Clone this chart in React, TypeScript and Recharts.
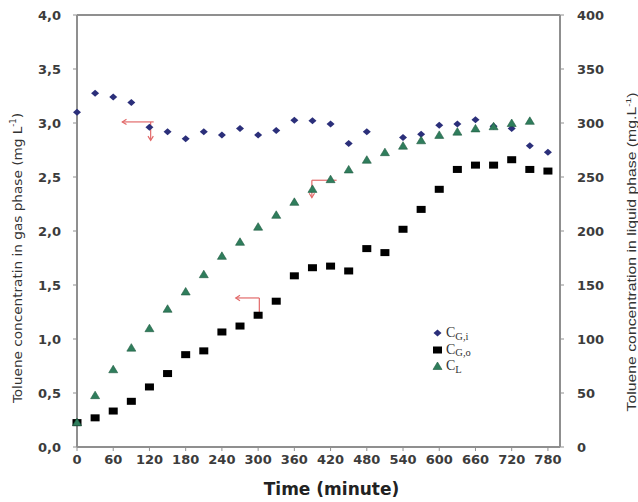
import React from 'react';
import {
  ScatterChart,
  Scatter,
  XAxis,
  YAxis,
  ReferenceLine,
  Label,
} from 'recharts';

// time (minute) for each series
const timeGi = [0, 30, 60, 90, 120, 150, 180, 210, 240, 270, 300, 330, 360, 390, 420, 450, 480, 540, 570, 600, 630, 660, 690, 720, 750, 780];
const timeGo = [0, 30, 60, 90, 120, 150, 180, 210, 240, 270, 300, 330, 360, 390, 420, 450, 480, 510, 540, 570, 600, 630, 660, 690, 720, 750, 780];
const timeL = [0, 30, 60, 90, 120, 150, 180, 210, 240, 270, 300, 330, 360, 390, 420, 450, 480, 510, 540, 570, 600, 630, 660, 690, 720, 750];

// gas phase, mg/L (left axis)
const cGi = [3.1, 3.275, 3.24, 3.19, 2.96, 2.92, 2.855, 2.92, 2.89, 2.95, 2.89, 2.93, 3.025, 3.02, 2.99, 2.81, 2.92, 2.865, 2.895, 2.98, 2.99, 3.03, 2.97, 2.95, 2.79, 2.73];
const cGo = [0.226, 0.27, 0.333, 0.423, 0.556, 0.68, 0.855, 0.89, 1.065, 1.12, 1.22, 1.35, 1.585, 1.66, 1.675, 1.63, 1.837, 1.8, 2.016, 2.2, 2.386, 2.57, 2.61, 2.61, 2.66, 2.57, 2.555];
// liquid phase, mg/L (right axis)
const cL = [23, 48, 72, 92, 110, 128, 144, 160, 177, 190, 204, 215, 227, 239, 248, 257, 266, 273, 279, 284, 289, 292, 295, 297, 300, 302];

const xTicks = [0, 60, 120, 180, 240, 300, 360, 420, 480, 540, 600, 660, 720, 780];
const leftTicks = [0, 0.5, 1, 1.5, 2, 2.5, 3, 3.5, 4];
const rightTicks = [0, 50, 100, 150, 200, 250, 300, 350, 400];

// red annotation arrows, in data units of the left axis
const arrowSegments = [
  { x1: 127, y1: 3.01, x2: 75, y2: 3.01, head: true },
  { x1: 122, y1: 3.01, x2: 122, y2: 2.84, head: true },
  { x1: 389, y1: 2.47, x2: 430, y2: 2.47, head: false },
  { x1: 389, y1: 2.47, x2: 389, y2: 2.31, head: true },
  { x1: 302, y1: 1.38, x2: 263, y2: 1.38, head: true },
  { x1: 302, y1: 1.38, x2: 302, y2: 1.23, head: false },
];

const giData = timeGi.map((t, i) => ({ t, v: cGi[i] }));
const goData = timeGo.map((t, i) => ({ t, v: cGo[i] }));
const lData = timeL.map((t, i) => ({ t, v: cL[i] }));

const BLUE = '#2b2f7a';
const GREEN = '#2f7d5c';
const RED = '#e26a6a';
const AXIS = '#8f8f8f';
const TICK_FONT = { fontFamily: 'DejaVu Sans', fontWeight: 700, fontSize: 13, fill: '#3c3c3c' };

const Diamond = (p: any) => (
  <polygon points={`${p.cx - 4},${p.cy} ${p.cx},${p.cy - 3.5} ${p.cx + 4},${p.cy} ${p.cx},${p.cy + 3.5}`} fill={BLUE} />
);
const Square = (p: any) => <rect x={p.cx - 4.5} y={p.cy - 3.5} width={9} height={7} fill="#000" />;
const Triangle = (p: any) => (
  <polygon
    points={`${p.cx - 4.5},${p.cy + 3.5} ${p.cx},${p.cy - 4} ${p.cx + 4.5},${p.cy + 3.5}`}
    fill={GREEN}
    stroke="#1f5a40"
    strokeWidth={0.6}
  />
);

const headShape = (p: any) => {
  const { x1, y1, x2, y2 } = p;
  const ang = Math.atan2(y2 - y1, x2 - x1);
  const a1 = ang + Math.PI * 0.82;
  const a2 = ang - Math.PI * 0.82;
  return (
    <g>
      <line x1={x1} y1={y1} x2={x2} y2={y2} stroke={RED} strokeWidth={1.2} />
      <polyline
        points={`${x2 + 5 * Math.cos(a1)},${y2 + 5 * Math.sin(a1)} ${x2},${y2} ${x2 + 5 * Math.cos(a2)},${y2 + 5 * Math.sin(a2)}`}
        fill="none"
        stroke={RED}
        strokeWidth={1.2}
      />
    </g>
  );
};
const plainShape = (p: any) => <line x1={p.x1} y1={p.y1} x2={p.x2} y2={p.y2} stroke={RED} strokeWidth={1.2} />;

const LeftTitle = (props: any) => {
  const vb = props.viewBox;
  const cx = vb.x + 17;
  const cy = vb.y + vb.height / 2 + 27;
  return (
    <text
      x={cx}
      y={cy}
      transform={`rotate(-90 ${cx} ${cy})`}
      textAnchor="middle"
      dominantBaseline="central"
      fontFamily="'Liberation Sans Narrow', 'DejaVu Sans Condensed', sans-serif"
      fontSize={13}
      fill="#333"
      textLength={290}
      lengthAdjust="spacingAndGlyphs"
    >
      Toluene concentratin in gas phase (mg L<tspan dy={-4} fontSize={8}>-1</tspan>
      <tspan dy={4}>)</tspan>
    </text>
  );
};

const RightTitle = (props: any) => {
  const vb = props.viewBox;
  const cx = vb.x + 72;
  const cy = vb.y + vb.height / 2 + 21;
  return (
    <text
      x={cx}
      y={cy}
      transform={`rotate(-90 ${cx} ${cy})`}
      textAnchor="middle"
      dominantBaseline="central"
      fontFamily="'Liberation Sans', Arial, sans-serif"
      fontSize={12.5}
      fill="#333"
      textLength={319}
      lengthAdjust="spacingAndGlyphs"
    >
      Toluene concentration in liquid phase (mg.L<tspan dy={-4} fontSize={8}>-1</tspan>
      <tspan dy={4}>)</tspan>
    </text>
  );
};

const BottomTitle = (props: any) => {
  const vb = props.viewBox;
  return (
    <text
      x={vb.x + vb.width / 2 + 13}
      y={vb.y + 48}
      textAnchor="middle"
      fontFamily="DejaVu Sans"
      fontWeight={700}
      fontSize={17}
      fill="#222"
    >
      Time (minute)
    </text>
  );
};

const legendItems = [
  { sub: 'G,i', shape: 'diamond' },
  { sub: 'G,o', shape: 'square' },
  { sub: 'L', shape: 'triangle' },
];

const LegendBox = () => (
  <div style={{ position: 'absolute', left: 432, top: 325, fontFamily: "'Liberation Serif', serif", color: '#333' }}>
    {legendItems.map((it) => (
      <div key={it.sub} style={{ display: 'flex', alignItems: 'center', height: 16.5 }}>
        <svg width={11} height={10} style={{ marginRight: 3 }}>
          {it.shape === 'diamond' && <Diamond cx={5.5} cy={5} />}
          {it.shape === 'square' && <Square cx={5.5} cy={5} />}
          {it.shape === 'triangle' && <Triangle cx={5.5} cy={5} />}
        </svg>
        <span style={{ fontSize: 14 }}>C</span>
        <span style={{ fontSize: 10.5, position: 'relative', top: 3 }}>{it.sub}</span>
      </div>
    ))}
  </div>
);

export default function App() {
  return (
    <div style={{ position: 'absolute', left: 0, top: 0, width: 638, height: 502, background: '#fff' }}>
      <ScatterChart width={638} height={502} margin={{ top: 15, right: 0, bottom: 0, left: 0 }}>
        <XAxis
          type="number"
          dataKey="t"
          domain={[0, 800]}
          ticks={xTicks}
          interval={0}
          axisLine={{ stroke: AXIS, strokeWidth: 2 }}
          tickLine={{ stroke: AXIS }}
          tickSize={4}
          tickMargin={4}
          tick={TICK_FONT}
          height={55}
        >
          <Label content={BottomTitle} />
        </XAxis>
        <YAxis
          yAxisId="left"
          type="number"
          dataKey="v"
          domain={[0, 4]}
          ticks={leftTicks}
          interval={0}
          tickFormatter={(v: number) => v.toFixed(1).replace('.', ',')}
          axisLine={{ stroke: AXIS, strokeWidth: 2 }}
          tickLine={{ stroke: AXIS }}
          tickSize={4}
          tickMargin={12}
          tick={TICK_FONT}
          width={77}
        >
          <Label content={LeftTitle} />
        </YAxis>
        <YAxis
          yAxisId="right"
          orientation="right"
          type="number"
          dataKey="v"
          domain={[0, 400]}
          ticks={rightTicks}
          interval={0}
          axisLine={{ stroke: AXIS, strokeWidth: 2 }}
          tickLine={{ stroke: AXIS }}
          tickSize={4}
          tickMargin={13}
          tick={{ ...TICK_FONT, textAnchor: 'start' }}
          width={78}
        >
          <Label content={RightTitle} />
        </YAxis>
        <ReferenceLine yAxisId="left" y={4} stroke={AXIS} strokeWidth={2} />
        <Scatter name="CG,i" data={giData} yAxisId="left" shape={Diamond} isAnimationActive={false} />
        <Scatter name="CG,o" data={goData} yAxisId="left" shape={Square} isAnimationActive={false} />
        <Scatter name="CL" data={lData} yAxisId="right" shape={Triangle} isAnimationActive={false} />
        {arrowSegments.map((s, i) => (
          <ReferenceLine
            key={i}
            yAxisId="left"
            segment={[{ x: s.x1, y: s.y1 }, { x: s.x2, y: s.y2 }]}
            shape={s.head ? headShape : plainShape}
          />
        ))}
      </ScatterChart>
      <LegendBox />
    </div>
  );
}
